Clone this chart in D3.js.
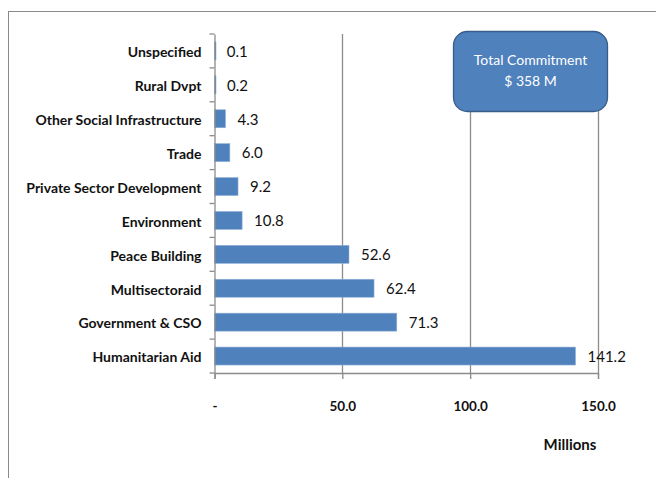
<!DOCTYPE html>
<html>
<head>
<meta charset="utf-8">
<script src="https://cdn.jsdelivr.net/npm/d3@7"></script>
<style>
  html, body { margin: 0; padding: 0; background: #fff; }
  svg { display: block; }
</style>
</head>
<body>
<svg id="chart" width="656" height="478"></svg>
<script>
// Sector commitments, in millions
const categories = [
  "Unspecified", "Rural Dvpt", "Other Social Infrastructure", "Trade",
  "Private Sector Development", "Environment", "Peace Building",
  "Multisectoraid", "Government & CSO", "Humanitarian Aid"
];
const values = [0.1, 0.2, 4.3, 6.0, 9.2, 10.8, 52.6, 62.4, 71.3, 141.2];
const xTicks = [0, 50, 100, 150];
const xTickLabels = ["-", "50.0", "100.0", "150.0"];
const axisTitle = "Millions";
const boxLines = ["Total Commitment", "$ 358 M"];

const svg = d3.select("#chart");
const plot = { left: 214.5, right: 598, top: 34, bottom: 373 };

const x = d3.scaleLinear().domain([0, 150]).range([plot.left, plot.right]);
const y = d3.scaleBand().domain(categories).range([plot.top, plot.bottom]).paddingInner(0.47).paddingOuter(0.235);

const labelFont = "Lato, 'Open Sans', sans-serif";
const axisColor = "#8c8c8c";

// Outer chart frame
svg.append("rect")
  .attr("x", 8.5).attr("y", 11.5)
  .attr("width", 700).attr("height", 500)
  .attr("fill", "none").attr("stroke", "#8a8a8a").attr("stroke-width", 1);

// Vertical gridlines
svg.append("g").selectAll("line")
  .data(xTicks.slice(1))
  .join("line")
  .attr("x1", d => Math.round(x(d)) + 0.5).attr("x2", d => Math.round(x(d)) + 0.5)
  .attr("y1", plot.top).attr("y2", plot.bottom)
  .attr("stroke", axisColor).attr("stroke-width", 1.3);

// Bars
svg.append("g").selectAll("rect")
  .data(values)
  .join("rect")
  .attr("x", x(0))
  .attr("y", (d, i) => y(categories[i]))
  .attr("width", d => Math.max(x(d) - x(0), 1.5))
  .attr("height", y.bandwidth())
  .attr("fill", "#4f81bd")
  .attr("stroke", "#8fb0d8").attr("stroke-width", 0.6);

// Value labels
svg.append("g").selectAll("text")
  .data(values)
  .join("text")
  .attr("x", d => x(d) + 12)
  .attr("y", (d, i) => y(categories[i]) + y.bandwidth() / 2 + 2)
  .attr("dominant-baseline", "middle")
  .attr("font-family", labelFont)
  .attr("font-size", 15)
  .attr("fill", "#111")
  .text(d => d.toFixed(1));

// Y axis (category axis)
const yAxis = d3.axisLeft(y).tickSize(0).tickPadding(13);
const gy = svg.append("g").attr("transform", `translate(${plot.left},0)`).call(yAxis);
gy.select(".domain").attr("stroke", axisColor).attr("stroke-width", 1.3);
gy.selectAll("text")
  .attr("dy", "0.45em")
  .attr("font-family", labelFont)
  .attr("font-weight", "bold")
  .attr("font-size", 14)
  .attr("fill", "#111");
// Tick marks at category boundaries
const bounds = d3.range(categories.length + 1).map(i => plot.top + i * (plot.bottom - plot.top) / categories.length);
svg.append("g").selectAll("line")
  .data(bounds)
  .join("line")
  .attr("x1", plot.left - 5).attr("x2", plot.left)
  .attr("y1", d => d).attr("y2", d => d)
  .attr("stroke", axisColor).attr("stroke-width", 1.3);

// X axis
const xAxis = d3.axisBottom(x).tickValues(xTicks).tickSize(6).tickPadding(22)
  .tickFormat((d, i) => xTickLabels[i]);
const gx = svg.append("g").attr("transform", `translate(0,${plot.bottom})`).call(xAxis);
gx.select(".domain").attr("stroke", axisColor).attr("stroke-width", 1.3);
gx.selectAll(".tick line").attr("stroke", axisColor).attr("stroke-width", 1.3);
gx.selectAll("text")
  .attr("font-family", labelFont)
  .attr("font-weight", "bold")
  .attr("font-size", 13.5)
  .attr("fill", "#111");

// Axis title
svg.append("text")
  .attr("x", 570).attr("y", 450)
  .attr("text-anchor", "middle")
  .attr("font-family", labelFont)
  .attr("font-weight", "bold")
  .attr("font-size", 15)
  .attr("fill", "#111")
  .text(axisTitle);

// Total commitment callout
const box = svg.append("g");
box.append("rect")
  .attr("x", 453.5).attr("y", 31.5)
  .attr("width", 154).attr("height", 80)
  .attr("rx", 14).attr("ry", 14)
  .attr("fill", "#4f81bd")
  .attr("stroke", "#385d8a").attr("stroke-width", 1.3);
box.selectAll("text")
  .data(boxLines)
  .join("text")
  .attr("x", 530.5)
  .attr("y", (d, i) => 61 + i * 21)
  .attr("text-anchor", "middle")
  .attr("dominant-baseline", "middle")
  .attr("font-family", labelFont)
  .attr("font-size", 14)
  .attr("fill", "#fff")
  .text(d => d);
</script>
</body>
</html>
